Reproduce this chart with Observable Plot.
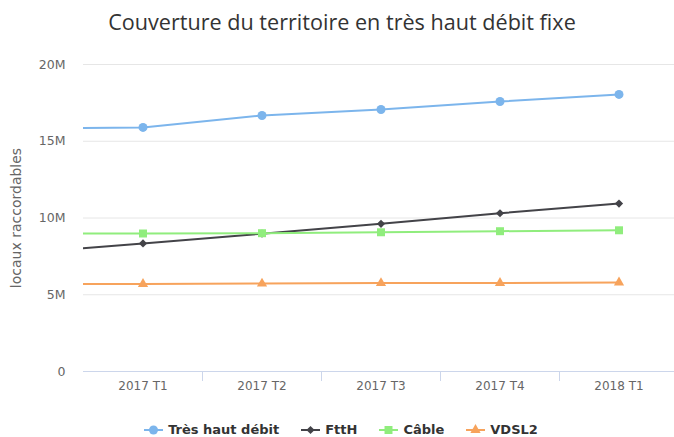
<!DOCTYPE html>
<html>
<head>
<meta charset="utf-8">
<script src="https://cdn.jsdelivr.net/npm/d3@7"></script>
<script src="https://cdn.jsdelivr.net/npm/@observablehq/plot@0.6"></script>
<style>
  html, body { margin: 0; padding: 0; background: #fff; }
  #wrap { position: relative; width: 674px; height: 437px; overflow: hidden; font-family: "DejaVu Sans", sans-serif; }
  #title { position: absolute; top: 7px; left: 5px; width: 674px; text-align: center; font-size: 21.6px; color: #333; font-family: "Open Sans", sans-serif; }
  #chart { position: absolute; top: 0; left: 0; }
  #legend { position: absolute; top: 421px; left: 4px; width: 674px; display: flex; justify-content: center; gap: 22px; font-size: 13px; font-weight: bold; color: #333; }
  .item { display: flex; align-items: center; gap: 5px; line-height: 18px; }
</style>
</head>
<body>
<div id="wrap">
  <div id="chart"></div>
  <div id="title">Couverture du territoire en très haut débit fixe</div>
  <div id="legend"></div>
</div>
<script>
// Categories (the first one lies just outside the visible plot and is clipped)
const categories = ["2016 T4", "2017 T1", "2017 T2", "2017 T3", "2017 T4", "2018 T1"];
const seriesNames = ["Très haut débit", "FttH", "Câble", "VDSL2"];
const seriesColors = ["#7cb5ec", "#434348", "#90ed7d", "#f7a35c"];
const seriesSymbols = ["circle", "diamond2", "square", "triangle"];
const seriesMarkerR = [4.5, 3.7, 4.5, 3.8];
// values in millions of premises
const tresHautDebit = [15.84, 15.90, 16.68, 17.07, 17.59, 18.05];
const ftth = [7.71, 8.34, 8.98, 9.62, 10.31, 10.94];
const cable = [8.98, 8.99, 9.01, 9.07, 9.14, 9.20];
const vdsl2 = [5.69, 5.70, 5.73, 5.76, 5.77, 5.80];
const yTicks = [0, 5, 10, 15, 20];
const yLabel = "locaux raccordables";

const allSeries = [tresHautDebit, ftth, cable, vdsl2];
const rows = allSeries.flatMap((vals, s) => vals.map((v, i) => ({i, v, s: seriesNames[s]})));

const colorScale = {domain: seriesNames, range: seriesColors};
const symbolScale = {domain: seriesNames, range: seriesSymbols};

const marks = [
  Plot.gridY(yTicks.filter(d => d > 0), {stroke: "#e6e6e6", strokeOpacity: 1}),
  Plot.ruleY([0], {stroke: "#ccd6eb"}),
  Plot.axisX(d3.range(1.5, categories.length - 1, 1), {tickSize: 10, tickFormat: () => "", stroke: "#ccd6eb", strokeOpacity: 1, label: null}),
  Plot.axisX(d3.range(1, categories.length), {tickSize: 0, tickPadding: 10, tickFormat: i => categories[i], fill: "#666", fontSize: 12, label: null}),
  Plot.axisY(yTicks, {tickSize: 0, tickPadding: 18, tickFormat: d => d === 0 ? "0" : d + "M", fill: "#666", fontSize: 12.5, label: null}),
  Plot.text([yLabel], {frameAnchor: "left", dx: -67, rotate: -90, textAnchor: "middle", fill: "#666", fontSize: 14})
];
seriesNames.forEach((name, k) => {
  const data = rows.filter(r => r.s === name);
  marks.push(Plot.line(data, {x: "i", y: "v", stroke: "s", strokeWidth: 2, clip: true}));
  marks.push(Plot.dot(data, {x: "i", y: "v", fill: "s", symbol: "s", r: seriesMarkerR[k], clip: true}));
});

const chart = Plot.plot({
  width: 674,
  height: 437,
  marginTop: 64,
  marginBottom: 66,
  marginLeft: 83,
  marginRight: -4,
  x: {type: "linear", domain: [0.5, categories.length - 0.5]},
  y: {domain: [0, 20]},
  color: colorScale,
  symbol: symbolScale,
  style: {fontFamily: "DejaVu Sans, sans-serif", background: "transparent", overflow: "hidden"},
  marks
});
document.getElementById("chart").appendChild(chart);

// Legend
const legend = document.getElementById("legend");
const d3Symbols = {circle: d3.symbolCircle, diamond2: d3.symbolDiamond2, square: d3.symbolSquare, triangle: d3.symbolTriangle};
seriesNames.forEach((name, k) => {
  const item = document.createElement("div");
  item.className = "item";
  const sym = d3.symbol(d3Symbols[seriesSymbols[k]], Math.PI * seriesMarkerR[k] ** 2)();
  item.innerHTML = `<svg width="19" height="12"><line x1="0" x2="19" y1="6" y2="6" stroke="${seriesColors[k]}" stroke-width="2"/><path d="${sym}" transform="translate(9.5,6)" fill="${seriesColors[k]}"/></svg><span>${name}</span>`;
  legend.appendChild(item);
});
</script>
</body>
</html>
